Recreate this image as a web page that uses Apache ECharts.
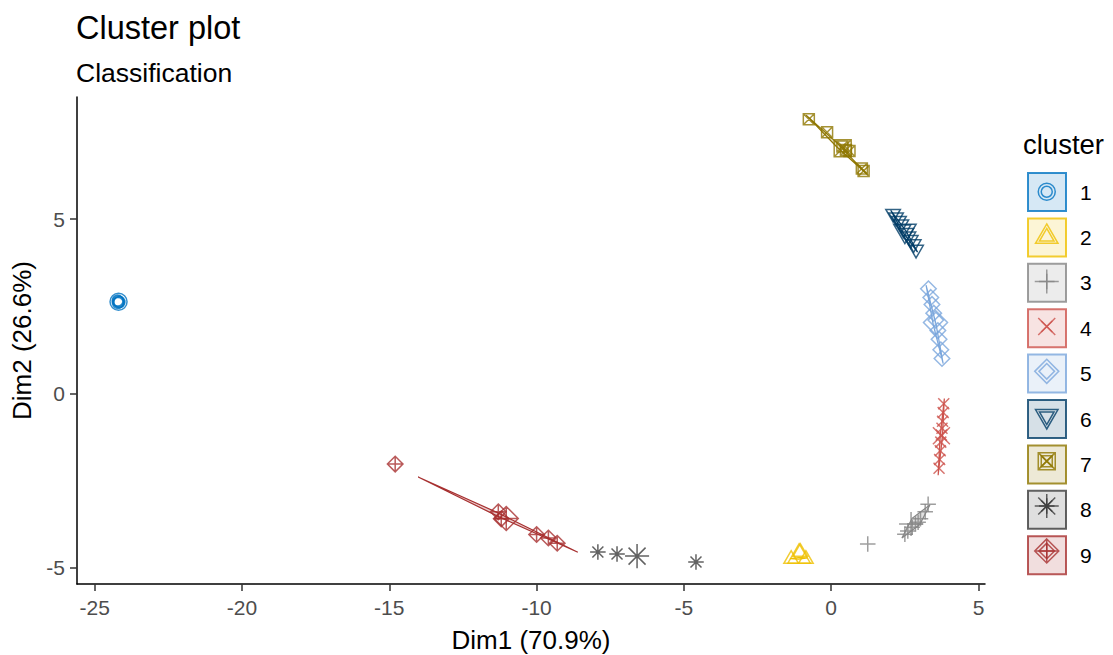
<!DOCTYPE html>
<html><head><meta charset="utf-8">
<script src="https://cdn.jsdelivr.net/npm/echarts@6/dist/echarts.min.js"></script>
<style>html,body{margin:0;padding:0;background:#fff}#c{width:1113px;height:655px}</style>
</head><body><div id="c"></div>
<script>
// ---------------- data ----------------
const clusterNames = ['1','2','3','4','5','6','7','8','9'];
const xTicks = [-25, -20, -15, -10, -5, 0, 5];
const yTicks = [-5, 0, 5];

const c1X = [-24.2, -24.18, -24.22, -24.16, -24.21];
const c1Y = [2.64, 2.61, 2.66, 2.62, 2.59];
const c2X = [-1.36, -1.05, -0.86];
const c2Y = [-4.75, -4.55, -4.75];
const c3X = [1.24, 2.5, 2.6, 2.75, 2.86, 2.95, 3.03, 3.19, 3.29];
const c3Y = [-4.32, -4.04, -3.95, -3.84, -3.75, -3.7, -3.6, -3.4, -3.18];
const c4X = [3.82, 3.8, 3.78, 3.76, 3.74, 3.72, 3.7, 3.68, 3.66];
const c4Y = [-0.3, -0.55, -0.8, -1.0, -1.2, -1.4, -1.65, -1.9, -2.15];
const c5X = [3.3, 3.38, 3.42, 3.48, 3.55, 3.62, 3.66, 3.72, 3.76];
const c5Y = [3.0, 2.75, 2.55, 2.3, 2.1, 1.8, 1.55, 1.25, 1.0];
const c6X = [2.1, 2.2, 2.3, 2.38, 2.45, 2.55, 2.62, 2.7, 2.8, 2.88];
const c6Y = [5.15, 5.05, 4.95, 4.85, 4.7, 4.6, 4.5, 4.4, 4.28, 4.12];
const c7X = [-0.76, -0.14, 0.38, 0.5, 0.62, 1.04, 1.1];
const c7Y = [7.86, 7.49, 7.08, 6.98, 6.95, 6.45, 6.38];
const c8X = [-7.92, -7.27, -4.59];
const c8Y = [-4.55, -4.61, -4.84];
const c9X = [-14.8, -11.3, -11.2, -10.0, -9.6, -9.3];
const c9Y = [-2.03, -3.4, -3.6, -4.05, -4.15, -4.3];

const centroidX = [-24.19, -1.09, 2.71, 3.74, 3.54, 2.5, 0.39, -6.59, -11.03];
const centroidY = [2.625, -4.68, -3.75, -1.22, 2.03, 4.66, 7.03, -4.67, -3.59];

// ellipse outlines (tip, side, tip, side) per cluster
const ell2 = [[-1.40, -4.74], [-1.1, -4.71], [-0.80, -4.72], [-1.1, -4.76]];
const ell3 = [[2.4, -4.15], [3.005, -3.765], [3.35, -3.2], [2.745, -3.585]];
const ell4 = [[3.84, -0.15], [3.775, -1.25], [3.63, -2.35], [3.695, -1.25]];
const ell5 = [[3.22, 3.1], [3.56, 1.975], [3.8, 0.85], [3.46, 1.975]];
const ell6 = [[2.02, 5.25], [2.545, 4.65], [2.93, 4.05], [2.405, 4.65]];
const ell7 = [[-0.85, 7.98], [0.175, 7.2], [1.2, 6.3], [0.175, 7.08]];
const ell9 = [[-14.02, -2.40], [-11.31, -3.43], [-8.60, -4.56], [-11.31, -3.53]];

// ---------------- styling ----------------
const pointsX = [c1X, c2X, c3X, c4X, c5X, c6X, c7X, c8X, c9X];
const pointsY = [c1Y, c2Y, c3Y, c4Y, c5Y, c6Y, c7Y, c8Y, c9Y];
const ellipses = [null, ell2, ell3, ell4, ell5, ell6, ell7, null, ell9];
const colors = ['#0073C2', '#EFC000', '#868686', '#CD534C', '#7AA6DC', '#003C67', '#8F7700', '#3B3B3B', '#A73030'];
function alpha(hex, a) {
  const n = parseInt(hex.slice(1), 16);
  return 'rgba(' + (n >> 16 & 255) + ',' + (n >> 8 & 255) + ',' + (n & 255) + ',' + a + ')';
}
const FRAME = 'M-1.5,-1.5M1.5,1.5';
const shapes = [
  'M1,0A1,1,0,1,1,-1,0A1,1,0,1,1,1,0Z',
  'M0,-1.555L1.347,0.778L-1.347,0.778Z',
  'M-1.414,0L1.414,0M0,-1.414L0,1.414',
  'M-1,-1L1,1M-1,1L1,-1',
  'M0,-1.414L1.414,0L0,1.414L-1.414,0Z',
  'M0,1.555L1.347,-0.778L-1.347,-0.778Z',
  'M-1,-1L1,-1L1,1L-1,1ZM-1,-1L1,1M-1,1L1,-1',
  'M-1,-1L1,1M-1,1L1,-1M-1.414,0L1.414,0M0,-1.414L0,1.414',
  'M0,-1.414L1.414,0L0,1.414L-1.414,0ZM-1.414,0L1.414,0M0,-1.414L0,1.414'
].map(s => 'path://' + FRAME + s);
const R_SMALL = 5.5, R_BIG = 8.5;
const F = 'Liberation Sans, Arial, Helvetica, sans-serif';

const series = [];
clusterNames.forEach((name, i) => {
  series.push({
    type: 'scatter', name: name, z: 3, silent: true,
    data: pointsX[i].map((x, j) => [x, pointsY[i][j]]),
    symbol: shapes[i], symbolSize: 3 * R_SMALL, symbolKeepAspect: true,
    itemStyle: { color: 'rgba(0,0,0,0)', borderColor: colors[i], borderWidth: 1.5 }
  });
  series.push({
    type: 'scatter', name: name, z: 4, silent: true,
    data: [[centroidX[i], centroidY[i]]],
    symbol: shapes[i], symbolSize: 3 * R_BIG, symbolKeepAspect: true,
    itemStyle: { color: 'rgba(0,0,0,0)', borderColor: colors[i], borderWidth: 1.5 }
  });
  if (ellipses[i]) {
    const verts = ellipses[i];
    series.push({
      type: 'custom', name: name, z: 2, silent: true,
      data: verts, encode: { x: 0, y: 1 },
      renderItem: (params, api) => {
        if (params.dataIndex !== 0) return null;
        const pts = verts.map(v => api.coord(v));
        return {
          type: 'polygon',
          shape: { points: pts },
          style: { fill: alpha(colors[i], 0.25), stroke: colors[i], lineWidth: 1.2 }
        };
      }
    });
  }
});

const legendRowH = 43.4;
const boxCx = 1046, boxCy = 191;
function iconLegend(size) {
  return {
    orient: 'vertical', padding: 0, selectedMode: false,
    left: boxCx - size / 2, top: boxCy - size / 2,
    itemWidth: size, itemHeight: size, itemGap: legendRowH - size,
    formatter: () => '',
    textStyle: { fontSize: 8, color: 'rgba(0,0,0,0)' },
    data: clusterNames.map((n, i) => ({
      name: n, icon: shapes[i],
      itemStyle: { color: 'rgba(0,0,0,0)', borderColor: colors[i], borderWidth: 1.5 }
    }))
  };
}

const option = {
  animation: false,
  backgroundColor: '#fff',
  title: [
    { text: 'Cluster plot', subtext: 'Classification', left: 76, top: 11, padding: 0, itemGap: 15,
      textStyle: { fontFamily: F, fontSize: 32.5, fontWeight: 'normal', color: '#000' },
      subtextStyle: { fontFamily: F, fontSize: 26.5, color: '#000' } },
    { text: 'cluster', left: 1023, top: 130, padding: 0,
      textStyle: { fontFamily: F, fontSize: 27.5, fontWeight: 'normal', color: '#000' } }
  ],
  legend: [
    {
      orient: 'vertical', padding: 0, selectedMode: false,
      left: 1027, top: 172, itemWidth: 38, itemHeight: 38, itemGap: legendRowH - 38,
      textStyle: { fontFamily: F, fontSize: 21, color: '#000', padding: [0, 0, 0, 9] },
      data: clusterNames.map((n, i) => ({
        name: n, icon: 'rect',
        itemStyle: { color: alpha(colors[i], 0.2), borderColor: colors[i], borderWidth: 2 }
      }))
    },
    iconLegend(3 * R_BIG),
    iconLegend(3 * R_SMALL)
  ],
  grid: { left: 77, top: 97, width: 908, height: 487, containLabel: false, outerBoundsMode: 'none' },
  xAxis: {
    type: 'value', min: -25.6, max: 5.22,
    splitLine: { show: false },
    axisLine: { onZero: false, lineStyle: { color: '#000', width: 1.5 } },
    axisTick: { customValues: xTicks, length: 7, lineStyle: { color: '#333', width: 1.5 } },
    axisLabel: { customValues: xTicks, margin: 13, fontSize: 21, color: '#4D4D4D', fontFamily: F },
    name: 'Dim1 (70.9%)', nameLocation: 'middle', nameGap: 43,
    nameTextStyle: { fontSize: 26, color: '#000', fontFamily: F }
  },
  yAxis: {
    type: 'value', min: -5.47, max: 8.5,
    splitLine: { show: false },
    axisLine: { onZero: false, lineStyle: { color: '#000', width: 1.5 } },
    axisTick: { customValues: yTicks, length: 7, lineStyle: { color: '#333', width: 1.5 } },
    axisLabel: { customValues: yTicks, margin: 12, fontSize: 21, color: '#4D4D4D', fontFamily: F },
    name: 'Dim2 (26.6%)', nameLocation: 'middle', nameGap: 37, nameRotate: 90,
    nameTextStyle: { fontSize: 26, color: '#000', fontFamily: F }
  },
  series: series
};
const chart = echarts.init(document.getElementById('c'), null, { renderer: 'svg' });
chart.setOption(option);
</script></body></html>
